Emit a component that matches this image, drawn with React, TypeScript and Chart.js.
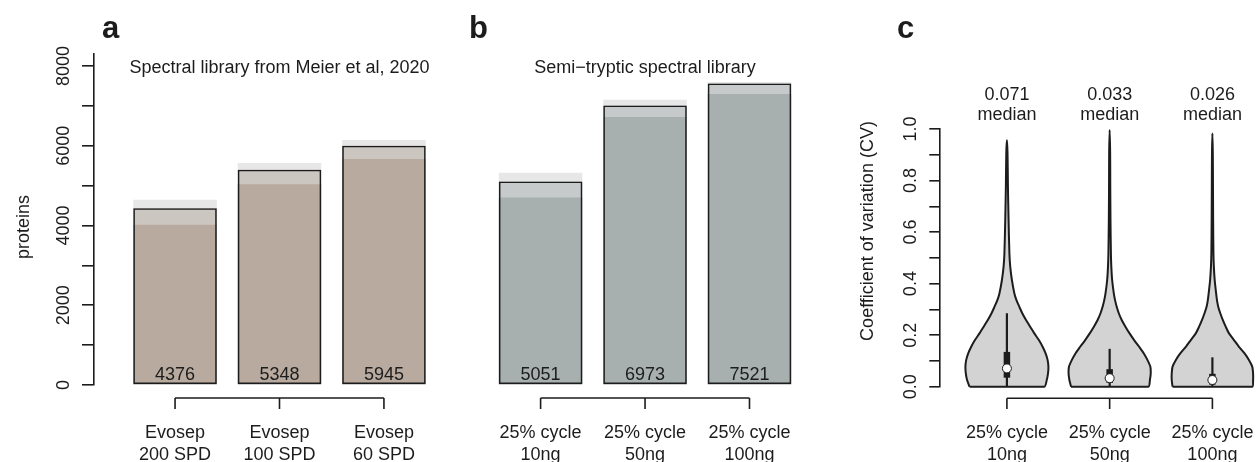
import React, { useEffect, useRef } from "react";
import { Chart, registerables } from "chart.js";

Chart.register(...registerables);

// ---------- data: panels a & b (protein counts) ----------
const panelTitles = ["Spectral library from Meier et al, 2020", "Semi\u2212tryptic spectral library"];
const barCategories = [
  ["Evosep", "200 SPD"],
  ["Evosep", "100 SPD"],
  ["Evosep", "60 SPD"],
  ["25% cycle", "10ng"],
  ["25% cycle", "50ng"],
  ["25% cycle", "100ng"],
];
const barPositions = [0, 1, 2, 3.5, 4.5, 5.5];
const proteinsLabel = [4376, 5348, 5945, 5051, 6973, 7521];
const proteinsMean = [4435, 5397, 5999, 5103, 7011, 7563];
const proteinsMax = [4643, 5564, 6142, 5321, 7154, 7598];
const proteinsMin = [4016, 5037, 5664, 4701, 6719, 7297];
const proteinTicks = [0, 1000, 2000, 3000, 4000, 5000, 6000, 7000, 8000];
const proteinTickLabels = [0, 2000, 4000, 6000, 8000];

// ---------- data: panel c (CV violins) ----------
const violinCategories = [
  ["25% cycle", "10ng"],
  ["25% cycle", "50ng"],
  ["25% cycle", "100ng"],
];
const cvGrid = [0, 0.026, 0.052, 0.078, 0.104, 0.13, 0.155, 0.181, 0.207, 0.233, 0.259, 0.285, 0.31, 0.336, 0.362, 0.414, 0.466, 0.518, 0.647, 0.776, 0.906];
const violinDensity1 = [0.9, 0.96, 0.99, 1.0, 0.98, 0.93, 0.86, 0.77, 0.66, 0.56, 0.46, 0.37, 0.3, 0.23, 0.18, 0.12, 0.08, 0.06, 0.04, 0.025, 0.015];
const violinDensity2 = [0.93, 0.97, 0.99, 0.98, 0.91, 0.82, 0.71, 0.59, 0.48, 0.38, 0.29, 0.22, 0.17, 0.13, 0.1, 0.06, 0.04, 0.03, 0.02, 0.015, 0.012];
const violinDensity3 = [0.96, 0.98, 0.98, 0.96, 0.88, 0.77, 0.64, 0.52, 0.4, 0.32, 0.25, 0.19, 0.14, 0.11, 0.09, 0.055, 0.035, 0.025, 0.018, 0.014, 0.01];
const violinMax = [0.957, 0.996, 0.983];
const cvMedian = [0.071, 0.033, 0.026];
const cvQ1 = [0.035, 0.015, 0.008];
const cvQ3 = [0.135, 0.068, 0.05];
const cvWhiskerHigh = [0.285, 0.147, 0.114];
const cvTicks = [0, 0.1, 0.2, 0.3, 0.4, 0.5, 0.6, 0.7, 0.8, 0.9, 1.0];
const cvTickLabels = [0, 0.2, 0.4, 0.6, 0.8, 1.0];

// ---------- style ----------
const INK = "#1c1c1c";
const FONT = "Liberation Sans, Arial, sans-serif";
const FS = 18;
const colMain = ["#b8aa9e", "#b8aa9e", "#b8aa9e", "#a8b0af", "#a8b0af", "#a8b0af"];
const colMid = ["#ccc6c1", "#ccc6c1", "#ccc6c1", "#c6caca", "#c6caca", "#c6caca"];
const colTop = ["#e7e7e7", "#e7e7e7", "#e7e7e7", "#e7e7e7", "#e7e7e7", "#e7e7e7"];
const VIOLIN_HALF = 0.404;

function txt(ctx: CanvasRenderingContext2D, s: string, x: number, y: number, size = FS, bold = false, rotate = false) {
  ctx.save();
  ctx.font = `${bold ? "bold " : ""}${size}px ${FONT}`;
  ctx.fillStyle = INK;
  ctx.textAlign = bold ? "left" : "center";
  ctx.textBaseline = "alphabetic";
  ctx.translate(x, y);
  if (rotate) ctx.rotate(-Math.PI / 2);
  ctx.fillText(s, 0, 0);
  ctx.restore();
}

function bracket(ctx: CanvasRenderingContext2D, xs: number[], y: number, y2: number) {
  ctx.save();
  ctx.strokeStyle = INK;
  ctx.lineWidth = 1.6;
  ctx.beginPath();
  ctx.moveTo(xs[0], y);
  ctx.lineTo(xs[xs.length - 1], y);
  xs.forEach((x) => {
    ctx.moveTo(x, y);
    ctx.lineTo(x, y2);
  });
  ctx.stroke();
  ctx.restore();
}

export default function App() {
  const refAB = useRef<HTMLCanvasElement>(null);
  const refC = useRef<HTMLCanvasElement>(null);

  useEffect(() => {
    const pts = (vals: number[]) => vals.map((v, i) => ({ x: barPositions[i], y: v }));

    const abPlugin = {
      id: "abText",
      afterDraw(chart: any) {
        const ctx = chart.ctx as CanvasRenderingContext2D;
        const xs = chart.scales.x;
        const ys = chart.scales.y;
        proteinTickLabels.forEach((v) => txt(ctx, String(v), 69, ys.getPixelForValue(v), FS, false, true));
        txt(ctx, "proteins", 28.5, 227, FS, false, true);
        txt(ctx, panelTitles[0], xs.getPixelForValue(1), 73);
        txt(ctx, panelTitles[1], xs.getPixelForValue(4.5), 73);
        barPositions.forEach((p, i) => txt(ctx, String(proteinsLabel[i]), xs.getPixelForValue(p), 380, 18));
        bracket(ctx, barPositions.slice(0, 3).map((p) => xs.getPixelForValue(p)), 398, 409);
        bracket(ctx, barPositions.slice(3).map((p) => xs.getPixelForValue(p)), 398, 409);
        barPositions.forEach((p, i) => {
          const x = xs.getPixelForValue(p);
          txt(ctx, barCategories[i][0], x, 438);
          txt(ctx, barCategories[i][1], x, 460);
        });
        txt(ctx, "a", 102, 38, 31, true);
        txt(ctx, "b", 469, 38, 31, true);
      },
    };

    const chartAB = new Chart(refAB.current!, {
      type: "bar",
      data: {
        datasets: [
          { label: "outline", data: pts(proteinsMean), backgroundColor: "rgba(0,0,0,0)", borderColor: INK, borderWidth: 1.6, borderSkipped: false, order: 0 },
          { label: "min", data: pts(proteinsMin), backgroundColor: colMain, borderWidth: 0, order: 1 },
          { label: "mean", data: pts(proteinsMean), backgroundColor: colMid, borderWidth: 0, order: 2 },
          { label: "max", data: pts(proteinsMax), backgroundColor: colTop, borderWidth: 0, order: 3 },
        ] as any,
      },
      options: {
        responsive: false,
        animation: false,
        events: [],
        layout: { padding: { left: 82, top: 54, right: 17.4, bottom: 77 } },
        datasets: { bar: { grouped: false, categoryPercentage: 1, barPercentage: 0.8 } } as any,
        plugins: { legend: { display: false }, tooltip: { enabled: false } },
        scales: {
          x: {
            type: "linear",
            min: -0.776,
            max: 6.2,
            display: false,
            offset: false,
            grid: { offset: false },
            afterBuildTicks: (s: any) => {
              s.ticks = barPositions.map((v) => ({ value: v }));
            },
          } as any,
          y: {
            type: "linear",
            min: 0,
            max: 8300,
            border: { display: true, color: INK, width: 1.6 },
            grid: { drawOnChartArea: false, drawTicks: true, tickLength: 12, color: INK, lineWidth: 1.6 },
            ticks: { display: false },
            afterFit: (s: any) => {
              s.width = 12;
            },
            afterBuildTicks: (s: any) => {
              s.ticks = proteinTicks.map((v) => ({ value: v }));
            },
          } as any,
        },
      },
      plugins: [abPlugin],
    });

    // ---------- panel c ----------
    const densities = [violinDensity1, violinDensity2, violinDensity3];
    const violinOutline = (i: number) => {
      const d = densities[i];
      const left = cvGrid.map((cv, k) => ({ x: i - d[k] * VIOLIN_HALF, y: cv }));
      const right = cvGrid.map((cv, k) => ({ x: i + d[k] * VIOLIN_HALF, y: cv })).reverse();
      return [...left, { x: i, y: violinMax[i] }, ...right, left[0]];
    };

    const datasetsC: any[] = [];
    [0, 1, 2].forEach((i) => {
      datasetsC.push({
        data: violinOutline(i),
        showLine: true,
        fill: "shape",
        backgroundColor: "#d3d3d3",
        borderColor: INK,
        borderWidth: 2,
        pointRadius: 0,
        tension: 0.25,
        clip: false,
        order: 10,
      });
      datasetsC.push({
        data: [
          { x: i, y: 0 },
          { x: i, y: cvWhiskerHigh[i] },
        ],
        showLine: true,
        borderColor: INK,
        borderWidth: 2.2,
        pointRadius: 0,
        clip: false,
        order: 5,
      });
      datasetsC.push({
        data: [
          { x: i, y: cvQ1[i] },
          { x: i, y: cvQ3[i] },
        ],
        showLine: true,
        borderColor: INK,
        borderWidth: 6.5,
        borderCapStyle: "butt",
        pointRadius: 0,
        clip: false,
        order: 4,
      });
    });
    datasetsC.push({
      data: cvMedian.map((m, i) => ({ x: i, y: m })),
      showLine: false,
      pointRadius: 4.5,
      pointBackgroundColor: "#ffffff",
      pointBorderColor: INK,
      pointBorderWidth: 1,
      clip: false,
      order: 0,
    });

    const cPlugin = {
      id: "cText",
      afterDraw(chart: any) {
        const ctx = chart.ctx as CanvasRenderingContext2D;
        const xs = chart.scales.x;
        const ys = chart.scales.y;
        cvTickLabels.forEach((v) => txt(ctx, v.toFixed(1), 76, ys.getPixelForValue(v), FS, false, true));
        txt(ctx, "Coefficient of variation (CV)", 33, 231, FS, false, true);
        const centers = [0, 1, 2].map((i) => xs.getPixelForValue(i));
        centers.forEach((x, i) => {
          txt(ctx, cvMedian[i].toFixed(3), x, 99.5);
          txt(ctx, "median", x, 120);
          txt(ctx, violinCategories[i][0], x, 438);
          txt(ctx, violinCategories[i][1], x, 460);
        });
        bracket(ctx, centers, 398.3, 409);
        txt(ctx, "c", 57, 38, 31, true);
      },
    };

    const chartC = new Chart(refC.current!, {
      type: "scatter",
      data: { datasets: datasetsC },
      options: {
        responsive: false,
        animation: false,
        events: [],
        layout: { padding: { left: 89.3, top: 129, right: 1.7, bottom: 75.3 } },
        plugins: { legend: { display: false }, tooltip: { enabled: false } },
        scales: {
          x: { type: "linear", min: -0.658, max: 2.4, display: false, offset: false } as any,
          y: {
            type: "linear",
            min: 0,
            max: 1,
            border: { display: true, color: INK, width: 1.6 },
            grid: { drawOnChartArea: false, drawTicks: true, tickLength: 10, color: INK, lineWidth: 1.6 },
            ticks: { display: false },
            afterFit: (s: any) => {
              s.width = 10;
            },
            afterBuildTicks: (s: any) => {
              s.ticks = cvTicks.map((v) => ({ value: v }));
            },
          } as any,
        },
      },
      plugins: [cPlugin],
    });

    return () => {
      chartAB.destroy();
      chartC.destroy();
    };
  }, []);

  return (
    <div style={{ position: "fixed", left: 0, top: 0, width: 1259, height: 462, background: "#ffffff" }}>
      <canvas ref={refAB} width={840} height={462} style={{ position: "absolute", left: 0, top: 0, width: 840, height: 462 }} />
      <canvas ref={refC} width={419} height={462} style={{ position: "absolute", left: 840, top: 0, width: 419, height: 462 }} />
    </div>
  );
}
